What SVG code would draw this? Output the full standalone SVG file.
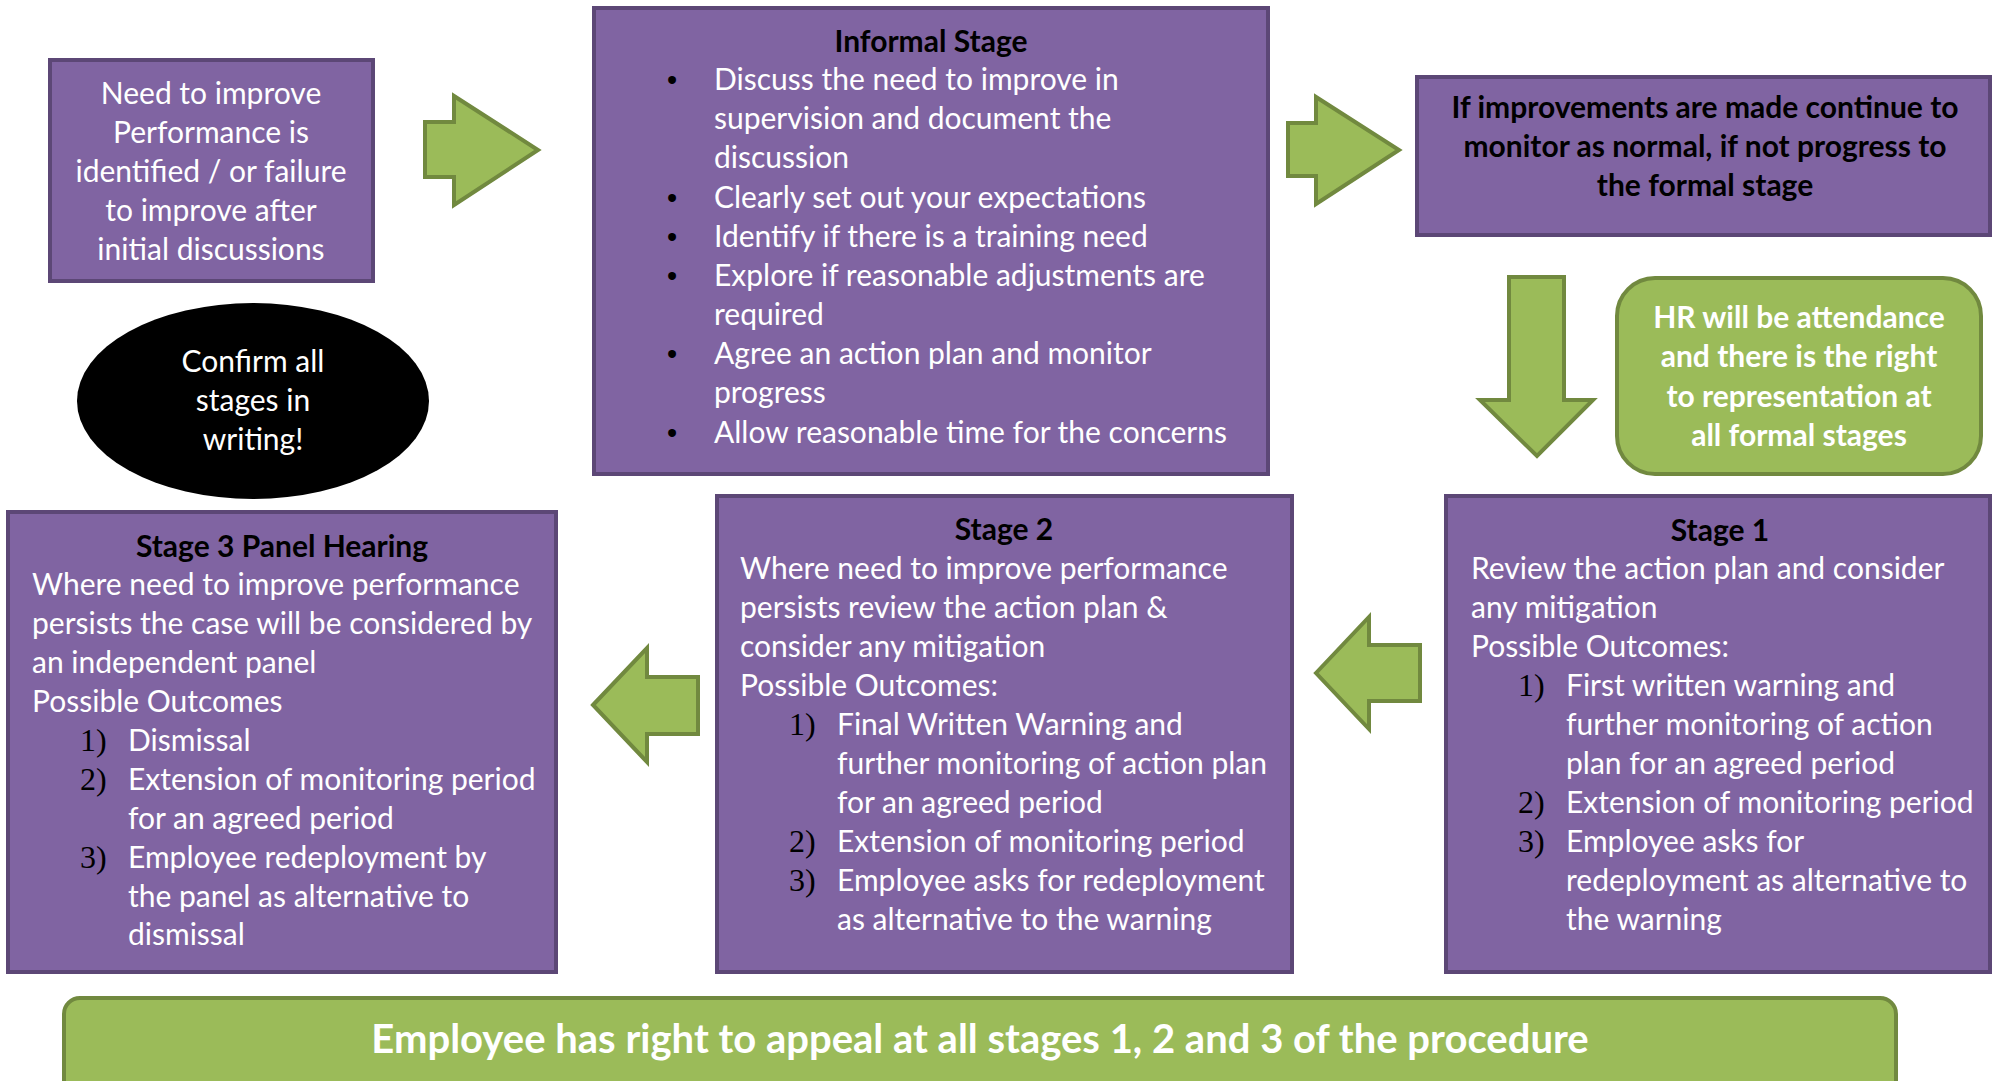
<svg xmlns="http://www.w3.org/2000/svg" width="1993" height="1081" viewBox="0 0 1993 1081">
<style>
.box{fill:#8064a2;stroke:#5c4776;stroke-width:4}
.grn{fill:#9bbb59;stroke:#71893f;stroke-width:4}
.t{font-family:Lato,"Liberation Sans",sans-serif;font-size:30px;fill:#ffffff}
.b{font-family:Lato,"Liberation Sans",sans-serif;font-size:30px;font-weight:bold;fill:#000000}
.bw{font-family:Lato,"Liberation Sans",sans-serif;font-size:30px;font-weight:bold;fill:#ffffff}
.c{text-anchor:middle}
.n{font-family:"Liberation Serif",serif;font-size:32px;fill:#000000}
.dot{font-family:"Liberation Sans",sans-serif;font-size:29px;fill:#000000;text-anchor:middle}
</style>
<rect width="1993" height="1081" fill="#ffffff"/>

<g id="connectors">
<polygon class="grn" points="425,122 454,122 454,96 538,150 454,205 454,177 425,177"/>
<polygon class="grn" points="1288,123 1316,123 1316,97 1399,150 1316,204 1316,176 1288,176"/>
<polygon class="grn" points="1509,277 1564,277 1564,400 1593,400 1537,456 1480,400 1509,400"/>
<polygon class="grn" points="1316,673 1369,617 1369,645 1420,645 1420,701 1369,701 1369,729"/>
<polygon class="grn" points="593,705 647,648 647,677 698,677 698,734 647,734 647,762"/>
</g>

<g id="need">
<rect class="box" x="50" y="60" width="323" height="221"/>
<text class="t c" x="211" y="104">Need to improve</text>
<text class="t c" x="211" y="143">Performance is</text>
<text class="t c" x="211" y="182">identified / or failure</text>
<text class="t c" x="211" y="221">to improve after</text>
<text class="t c" x="211" y="260">initial discussions</text>
</g>

<g id="confirm">
<ellipse cx="253" cy="401" rx="176" ry="98" fill="#000000"/>
<text class="t c" x="253" y="372">Confirm all</text>
<text class="t c" x="253" y="411">stages in</text>
<text class="t c" x="253" y="450">writing!</text>
</g>

<g id="informal">
<rect class="box" x="594" y="8" width="674" height="466"/>
<text class="b c" x="931" y="52">Informal Stage</text>
<text class="dot" x="672" y="90">•</text>
<text class="t" x="714" y="90">Discuss the need to improve in</text>
<text class="t" x="714" y="129">supervision and document the</text>
<text class="t" x="714" y="168">discussion</text>
<text class="dot" x="672" y="208">•</text>
<text class="t" x="714" y="208">Clearly set out your expectations</text>
<text class="dot" x="672" y="247">•</text>
<text class="t" x="714" y="247">Identify if there is a training need</text>
<text class="dot" x="672" y="286">•</text>
<text class="t" x="714" y="286">Explore if reasonable adjustments are</text>
<text class="t" x="714" y="325">required</text>
<text class="dot" x="672" y="364">•</text>
<text class="t" x="714" y="364">Agree an action plan and monitor</text>
<text class="t" x="714" y="403">progress</text>
<text class="dot" x="672" y="443">•</text>
<text class="t" x="714" y="443">Allow reasonable time for the concerns</text>
</g>

<g id="improvements">
<rect class="box" x="1417" y="77" width="573" height="158"/>
<text class="b c" x="1705" y="118">If improvements are made continue to</text>
<text class="b c" x="1705" y="157">monitor as normal, if not progress to</text>
<text class="b c" x="1705" y="196">the formal stage</text>
</g>

<g id="hr">
<rect class="grn" x="1617" y="278" width="364" height="196" rx="38" ry="38"/>
<text class="bw c" x="1799" y="328">HR will be attendance</text>
<text class="bw c" x="1799" y="367">and there is the right</text>
<text class="bw c" x="1799" y="407">to representation at</text>
<text class="bw c" x="1799" y="446">all formal stages</text>
</g>

<g id="stage1">
<rect class="box" x="1446" y="496" width="544" height="476"/>
<text class="b c" x="1720" y="541">Stage 1</text>
<text class="t" x="1471" y="579">Review the action plan and consider</text>
<text class="t" x="1471" y="618">any mitigation</text>
<text class="t" x="1471" y="657">Possible Outcomes:</text>
<text class="n" x="1518" y="696">1)</text>
<text class="t" x="1566" y="696">First written warning and</text>
<text class="t" x="1566" y="735">further monitoring of action</text>
<text class="t" x="1566" y="774">plan for an agreed period</text>
<text class="n" x="1518" y="813">2)</text>
<text class="t" x="1566" y="813">Extension of monitoring period</text>
<text class="n" x="1518" y="852">3)</text>
<text class="t" x="1566" y="852">Employee asks for</text>
<text class="t" x="1566" y="891">redeployment as alternative to</text>
<text class="t" x="1566" y="930">the warning</text>
</g>

<g id="stage2">
<rect class="box" x="717" y="496" width="575" height="476"/>
<text class="b c" x="1004" y="540">Stage 2</text>
<text class="t" x="740" y="579">Where need to improve performance</text>
<text class="t" x="740" y="618">persists review the action plan &amp;</text>
<text class="t" x="740" y="657">consider any mitigation</text>
<text class="t" x="740" y="696">Possible Outcomes:</text>
<text class="n" x="789" y="735">1)</text>
<text class="t" x="837" y="735">Final Written Warning and</text>
<text class="t" x="837" y="774">further monitoring of action plan</text>
<text class="t" x="837" y="813">for an agreed period</text>
<text class="n" x="789" y="852">2)</text>
<text class="t" x="837" y="852">Extension of monitoring period</text>
<text class="n" x="789" y="891">3)</text>
<text class="t" x="837" y="891">Employee asks for redeployment</text>
<text class="t" x="837" y="930">as alternative to the warning</text>
</g>

<g id="stage3">
<rect class="box" x="8" y="512" width="548" height="460"/>
<text class="b c" x="282" y="557">Stage 3 Panel Hearing</text>
<text class="t" x="32" y="595">Where need to improve performance</text>
<text class="t" x="32" y="634">persists the case will be considered by</text>
<text class="t" x="32" y="673">an independent panel</text>
<text class="t" x="32" y="712">Possible Outcomes</text>
<text class="n" x="80" y="751">1)</text>
<text class="t" x="128" y="751">Dismissal</text>
<text class="n" x="80" y="790">2)</text>
<text class="t" x="128" y="790">Extension of monitoring period</text>
<text class="t" x="128" y="829">for an agreed period</text>
<text class="n" x="80" y="868">3)</text>
<text class="t" x="128" y="868">Employee redeployment by</text>
<text class="t" x="128" y="907">the panel as alternative to</text>
<text class="t" x="128" y="945">dismissal</text>
</g>

<g id="appeal">
<rect class="grn" x="64" y="998" width="1832" height="120" rx="16" ry="16"/>
<text class="bw c" x="980" y="1053" style="font-size:40px">Employee has right to appeal at all stages 1, 2 and 3 of the procedure</text>
</g>
</svg>
